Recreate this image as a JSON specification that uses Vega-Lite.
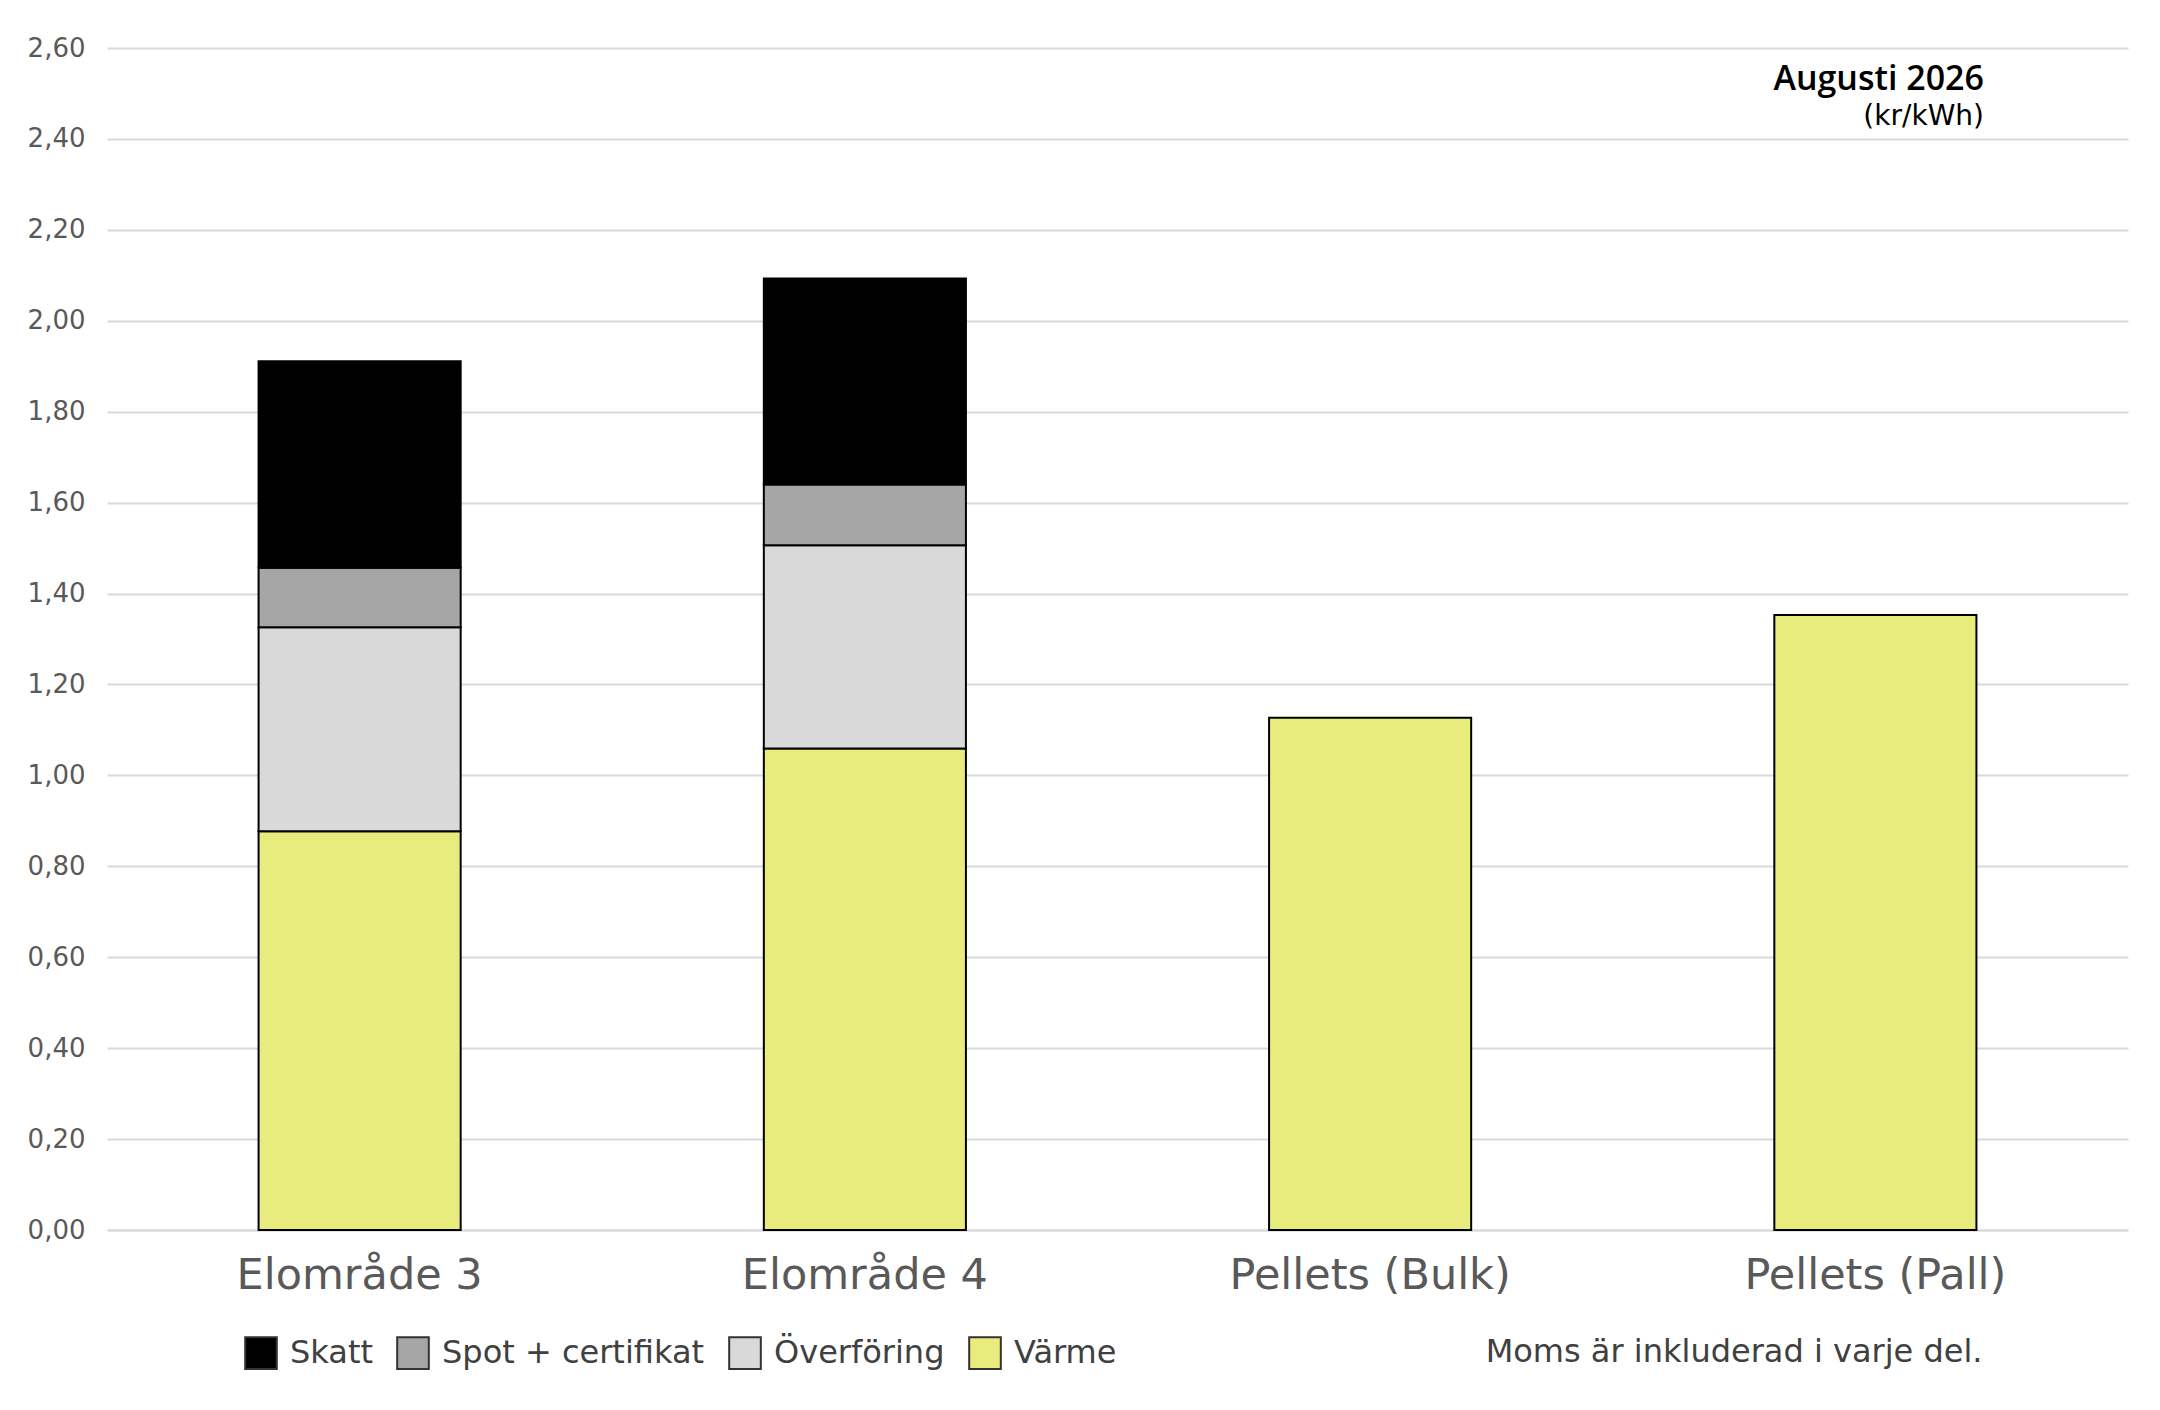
{
  "$schema": "https://vega.github.io/schema/vega-lite/v6.json",
  "description": "Pris per kWh, Augusti 2026",
  "autosize": {"type": "none"},
  "width": 2021,
  "height": 1182,
  "padding": {"left": 107, "top": 48, "right": 32, "bottom": 180},
  "background": "white",
  "title": {
    "text": "Augusti 2026",
    "subtitle": "(kr/kWh)",
    "anchor": "end",
    "frame": "group",
    "orient": "top",
    "offset": -96,
    "dx": -144,
    "font": "Open Sans",
    "fontSize": 34,
    "fontWeight": 600,
    "color": "#000000",
    "subtitleFont": "DejaVu Sans",
    "subtitleFontSize": 28,
    "subtitleColor": "#000000",
    "subtitlePadding": 6
  },
  "data": {
    "values": [
      {"kategori": "Elområde 3", "komponent": "Värme", "pris": 0.877},
      {"kategori": "Elområde 3", "komponent": "Överföring", "pris": 0.449},
      {"kategori": "Elområde 3", "komponent": "Spot + certifikat", "pris": 0.131},
      {"kategori": "Elområde 3", "komponent": "Skatt", "pris": 0.454},
      {"kategori": "Elområde 4", "komponent": "Värme", "pris": 1.059},
      {"kategori": "Elområde 4", "komponent": "Överföring", "pris": 0.447},
      {"kategori": "Elområde 4", "komponent": "Spot + certifikat", "pris": 0.134},
      {"kategori": "Elområde 4", "komponent": "Skatt", "pris": 0.453},
      {"kategori": "Pellets (Bulk)", "komponent": "Värme", "pris": 1.127},
      {"kategori": "Pellets (Pall)", "komponent": "Värme", "pris": 1.353}
    ]
  },
  "transform": [
    {"calculate": "indexof(['Värme', 'Överföring', 'Spot + certifikat', 'Skatt'], datum.komponent)", "as": "lager"}
  ],
  "mark": {"type": "bar", "stroke": "#000000", "strokeWidth": 2},
  "encoding": {
    "x": {
      "field": "kategori",
      "type": "nominal",
      "sort": null,
      "scale": {"paddingInner": 0.6, "paddingOuter": 0.3},
      "axis": {
        "title": "Moms är inkluderad i varje del.",
        "titleAnchor": "end",
        "titleAlign": "right",
        "titleBaseline": "middle",
        "titleX": 1875,
        "titleY": 121,
        "titleFont": "DejaVu Sans",
        "titleFontSize": 32,
        "titleFontWeight": "normal",
        "titleColor": "#404040",
        "labelAngle": 0,
        "labelFont": "DejaVu Sans",
        "labelFontSize": 43,
        "labelFontWeight": 500,
        "labelColor": "#595959",
        "labelPadding": 24,
        "labelLimit": 0,
        "ticks": false,
        "domain": true,
        "domainColor": "#d9d9d9",
        "domainWidth": 2
      }
    },
    "y": {
      "field": "pris",
      "type": "quantitative",
      "aggregate": "sum",
      "scale": {"domain": [0, 2.6], "nice": false},
      "axis": {
        "title": null,
        "values": [0, 0.2, 0.4, 0.6, 0.8, 1.0, 1.2, 1.4, 1.6, 1.8, 2.0, 2.2, 2.4, 2.6],
        "labelExpr": "replace(format(datum.value, '.2f'), '.', ',')",
        "labelFont": "DejaVu Sans",
        "labelFontSize": 26,
        "labelColor": "#595959",
        "labelPadding": 22,
        "ticks": false,
        "domain": false,
        "grid": true,
        "gridColor": "#d9d9d9",
        "gridWidth": 2
      }
    },
    "order": {"field": "lager", "type": "quantitative", "sort": "ascending"},
    "color": {
      "field": "komponent",
      "type": "nominal",
      "scale": {
        "domain": ["Skatt", "Spot + certifikat", "Överföring", "Värme"],
        "range": ["#000000", "#a6a6a6", "#d9d9d9", "#e8ec7c"]
      },
      "legend": {
        "title": null,
        "orient": "none",
        "direction": "horizontal",
        "legendX": 137,
        "legendY": 1288,
        "symbolType": "square",
        "symbolSize": 1000,
        "symbolStrokeColor": "#333333",
        "symbolStrokeWidth": 2,
        "labelFont": "DejaVu Sans",
        "labelFontSize": 32,
        "labelColor": "#404040",
        "labelOffset": 12,
        "labelLimit": 0,
        "columnPadding": 20
      }
    }
  },
  "config": {
    "view": {"stroke": null}
  }
}
